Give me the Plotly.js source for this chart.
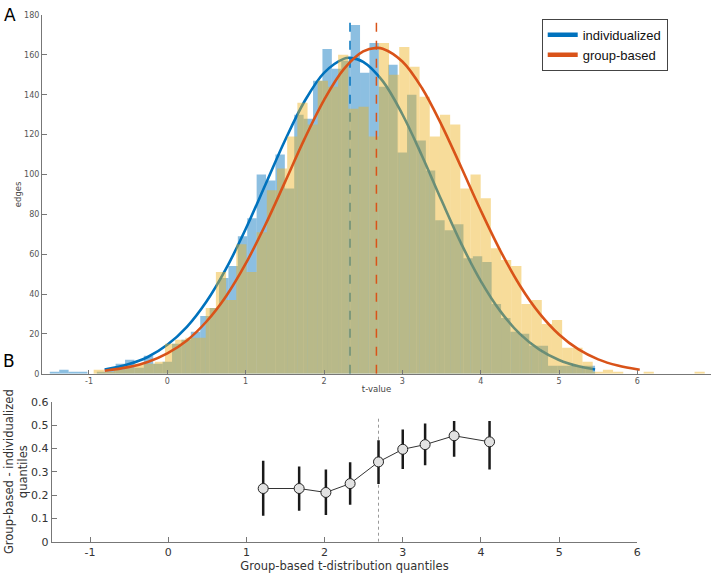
<!DOCTYPE html>
<html>
<head>
<meta charset="utf-8">
<script src="https://cdn.plot.ly/plotly-3.0.1.min.js"></script>
<style>html,body{margin:0;padding:0;background:#fff;}#chart{width:714px;height:573px;}</style>
</head>
<body>
<div id="chart"></div>
<script>
// ---------- Panel A: histograms of t-values ----------
const blueBinStart = -1.5;
const blueBinWidth = 0.12;
const blueCounts = [1,2,1,1,0,1,2,5,7,3,9,5,6,15,17,21,29,33,48,54,69,78,100,97,110,93,130,128,147,163,153,157,175,151,166,144,155,111,140,117,102,77,72,75,58,59,56,35,28,21,20,14,14,4,4,4,4,4];

const yellowBinStart = -0.94;
const yellowBinWidth = 0.13;
const yellowCounts = [2,1,2,3,5,5,6,15,17,18,18,33,51,37,65,51,71,92,103,119,136,125,147,144,160,133,134,119,166,150,164,154,139,119,130,125,93,100,88,63,57,54,35,37,25,27,13,13,6,1,2,1,0,0,1,0,0,0,0,1];

// fitted curves
const blueFitX = [-0.8,-0.5,-0.25,0,0.25,0.5,0.75,1.0,1.25,1.5,1.75,2.0,2.25,2.332,2.5,2.75,3.0,3.25,3.5,3.75,4.0,4.25,4.5,4.75,5.0,5.25,5.46];
const blueFitY = [2.1,4.7,8.4,14.5,23.5,36.2,52.7,72.6,94.7,116.9,136.6,151.0,158.0,158.5,156.5,146.8,130.2,109.4,87.0,65.4,46.6,31.4,20.0,12.1,6.9,3.7,2.1];
const orangeFitX = [-0.8,-0.5,-0.25,0,0.25,0.5,0.75,1.0,1.25,1.5,1.75,2.0,2.25,2.5,2.669,2.75,3.0,3.25,3.5,3.75,4.0,4.25,4.5,4.75,5.0,5.25,5.5,5.75,6.03];
const orangeFitY = [1.5,3.3,5.9,10.2,16.7,26.2,38.9,55.2,74.6,96.0,117.7,137.3,152.7,161.7,163.5,163.1,156.7,143.4,124.9,103.7,82.0,61.8,44.3,30.3,19.7,12.2,7.2,4.1,2.0];

const blueMean = 2.332;
const orangeMean = 2.669;
const histYRange = [0, 180];
const tickVals = [-1,0,1,2,3,4,5,6];
const tickText = ['-1','0','1','2','3','4','5','6'];
const seriesNames = ['individualized','group-based'];

// ---------- Panel B: quantile differences ----------
const quantX  = [1.215,1.675,2.017,2.327,2.69,3.0,3.286,3.657,4.11];
const quantY  = [0.228,0.228,0.211,0.249,0.342,0.396,0.416,0.454,0.428];
const quantHi = [0.347,0.322,0.309,0.340,0.435,0.481,0.506,0.517,0.517];
const quantLo = [0.111,0.133,0.114,0.158,0.247,0.311,0.328,0.364,0.309];
const refLineX = 2.69;
const refLineY = [0, 0.53];

const BLUE = '#0072BD', ORANGE = '#D95319';
const FONT = 'DejaVu Sans, sans-serif';

const blueCenters = blueCounts.map((_, i) => blueBinStart + blueBinWidth * (i + 0.5));
const yellowCenters = yellowCounts.map((_, i) => yellowBinStart + yellowBinWidth * (i + 0.5));

const traces = [
  // main layer (under yellow)
  {type:'bar', x:blueCenters, y:blueCounts, width:blueBinWidth, xaxis:'x', yaxis:'y',
   marker:{color:'rgba(0,114,189,0.45)', line:{width:0}}, showlegend:false, hoverinfo:'skip'},
  {type:'scatter', mode:'lines', x:blueFitX, y:blueFitY, xaxis:'x', yaxis:'y',
   line:{color:BLUE, width:2.6, shape:'spline'}, showlegend:false, hoverinfo:'skip'},
  {type:'scatter', mode:'lines', x:[blueMean, blueMean], y:histYRange, xaxis:'x', yaxis:'y',
   line:{color:BLUE, width:1.5, dash:'dash'}, showlegend:false, hoverinfo:'skip'},
  // overlay layer
  {type:'bar', x:yellowCenters, y:yellowCounts, width:yellowBinWidth, xaxis:'x', yaxis:'y3',
   marker:{color:'rgba(237,177,32,0.45)', line:{width:0}}, showlegend:false, hoverinfo:'skip'},
  {type:'scatter', mode:'lines', x:orangeFitX, y:orangeFitY, xaxis:'x', yaxis:'y3',
   line:{color:ORANGE, width:2.6, shape:'spline'}, showlegend:false, hoverinfo:'skip'},
  {type:'scatter', mode:'lines', x:[orangeMean, orangeMean], y:histYRange, xaxis:'x', yaxis:'y3',
   line:{color:ORANGE, width:1.5, dash:'dash'}, showlegend:false, hoverinfo:'skip'},
  // legend entries
  {type:'scatter', mode:'lines', x:[null], y:[null], xaxis:'x', yaxis:'y', name:seriesNames[0],
   line:{color:BLUE, width:4.5}, showlegend:true},
  {type:'scatter', mode:'lines', x:[null], y:[null], xaxis:'x', yaxis:'y', name:seriesNames[1],
   line:{color:ORANGE, width:4.5}, showlegend:true},
  // panel B
  {type:'scatter', mode:'lines', x:[refLineX, refLineX], y:refLineY, xaxis:'x2', yaxis:'y2',
   line:{color:'#999', width:1, dash:'dot'}, showlegend:false, hoverinfo:'skip'},
  {type:'scatter', mode:'lines+markers', x:quantX, y:quantY, xaxis:'x2', yaxis:'y2',
   line:{color:'#333', width:1},
   marker:{size:10, color:'#e2e2e2', line:{color:'#222', width:1}},
   error_y:{type:'data', symmetric:false,
     array:quantHi.map((h, i) => h - quantY[i]),
     arrayminus:quantLo.map((l, i) => quantY[i] - l),
     color:'#1a1a1a', thickness:2.5, width:0},
   showlegend:false, hoverinfo:'skip'}
];

const axCommon = {showline:true, linecolor:'#777', linewidth:1, ticks:'inside', tickcolor:'#777',
  showgrid:false, zeroline:false, fixedrange:true};

const layout = {
  width:714, height:573,
  margin:{l:0, r:0, t:0, b:0},
  paper_bgcolor:'#fff', plot_bgcolor:'rgba(0,0,0,0)',
  font:{family:FONT, color:'#333'},
  barmode:'overlay',
  showlegend:true,
  legend:{x:0.7587, y:0.967, xanchor:'left', yanchor:'top', bgcolor:'#fff',
    bordercolor:'#444', borderwidth:1, font:{family:'Liberation Sans, Arial, sans-serif', size:13, color:'#111'},
    tracegroupgap:0},
  xaxis:Object.assign({}, axCommon, {domain:[0.0588, 0.9958], range:[-1.6, 6.94], anchor:'y',
    tickvals:tickVals, ticktext:tickText, ticklen:4, tickfont:{size:8, color:'#555'},
    title:{text:'t-value', font:{size:8.5, color:'#444'}, standoff:0}}),
  yaxis:Object.assign({}, axCommon, {domain:[0.3478, 0.9738], range:histYRange, anchor:'x',
    dtick:20, ticklen:5, tickfont:{size:8, color:'#555'},
    title:{text:'edges', font:{size:8.5, color:'#444'}, standoff:1}}),
  yaxis3:{overlaying:'y', range:histYRange, visible:false, fixedrange:true, anchor:'x'},
  xaxis2:Object.assign({}, axCommon, {domain:[0.0724, 0.8926], range:[-1.49, 6], anchor:'y2',
    tickvals:tickVals, ticktext:tickText, ticklen:5, tickfont:{size:11, color:'#333'},
    title:{text:'Group-based t-distribution quantiles', font:{size:11.5, color:'#333'}, standoff:2}}),
  yaxis2:Object.assign({}, axCommon, {domain:[0.0546, 0.299], range:[0, 0.6], anchor:'x2',
    dtick:0.1, ticklen:5, tickfont:{size:11, color:'#333'},
    title:{text:'Group-based - individualized<br>quantiles', font:{size:11.5, color:'#333'}, standoff:0}}),
  annotations:[
    {text:'A', xref:'paper', yref:'paper', x:2/714, y:1-3/573, xanchor:'left', yanchor:'top',
     showarrow:false, font:{family:FONT, size:17, color:'#000'}},
    {text:'B', xref:'paper', yref:'paper', x:1/714, y:1-349/573, xanchor:'left', yanchor:'top',
     showarrow:false, font:{family:FONT, size:17, color:'#000'}}
  ]
};

Plotly.newPlot('chart', traces, layout, {staticPlot:true, displayModeBar:false});
</script>
</body>
</html>
